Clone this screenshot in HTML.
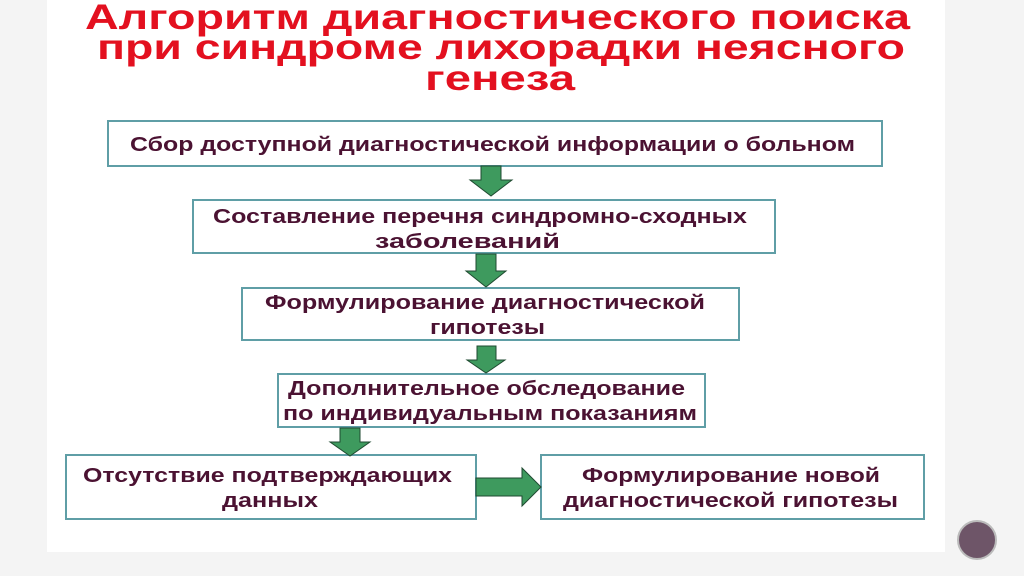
<!DOCTYPE html><html><head><meta charset="utf-8"><style>body{margin:0;background:#f4f4f4}svg{display:block}</style></head><body>
<svg width="1024" height="576" viewBox="0 0 1024 576" xmlns="http://www.w3.org/2000/svg" font-family="Liberation Sans, sans-serif">
<rect width="1024" height="576" fill="#f4f4f4"/>
<rect x="47" y="0" width="898" height="552" fill="#fff"/>
<g fill="#e3101f" font-weight="bold" font-size="35">
<text x="85" y="29" textLength="825" lengthAdjust="spacingAndGlyphs">Алгоритм диагностического поиска</text>
<text x="97" y="59" textLength="808" lengthAdjust="spacingAndGlyphs">при синдроме лихорадки неясного</text>
<text x="425" y="90" textLength="150" lengthAdjust="spacingAndGlyphs">генеза</text>
</g>
<g fill="#fff" stroke="#5f9ea6" stroke-width="2">
<rect x="108" y="121" width="774" height="45"/>
<rect x="193" y="200" width="582" height="53"/>
<rect x="242" y="288" width="497" height="52"/>
<rect x="278" y="374" width="427" height="53"/>
<rect x="66" y="455" width="410" height="64"/>
<rect x="541" y="455" width="383" height="64"/>
</g>
<g fill="#3e9a5e" stroke="#1f4a30" stroke-width="1">
<polygon points="481,166 501,166 501,180 512,180 491,196 470,180 481,180"/>
<polygon points="476,254 496,254 496,271 506,271 486,287 466,271 476,271"/>
<polygon points="477,346 496,346 496,360 505,360 486,373 467,360 477,360"/>
<polygon points="340,428 360,428 360,442 370,442 350,456 330,442 340,442"/>
<polygon points="476,478 522,478 522,468 541,487 522,506 522,496 476,496"/>
</g>
<g fill="#4b1232" font-weight="bold" font-size="20">
<text x="130" y="151" textLength="725" lengthAdjust="spacingAndGlyphs">Сбор доступной диагностической информации о больном</text>
<text x="213" y="223" textLength="534" lengthAdjust="spacingAndGlyphs">Составление перечня синдромно-сходных</text>
<text x="375" y="248" textLength="185" lengthAdjust="spacingAndGlyphs">заболеваний</text>
<text x="265" y="309" textLength="440" lengthAdjust="spacingAndGlyphs">Формулирование диагностической</text>
<text x="430" y="334" textLength="115" lengthAdjust="spacingAndGlyphs">гипотезы</text>
<text x="288" y="395" textLength="397" lengthAdjust="spacingAndGlyphs">Дополнительное обследование</text>
<text x="283" y="420" textLength="414" lengthAdjust="spacingAndGlyphs">по индивидуальным показаниям</text>
<text x="83" y="482" textLength="369" lengthAdjust="spacingAndGlyphs">Отсутствие подтверждающих</text>
<text x="222" y="507" textLength="96" lengthAdjust="spacingAndGlyphs">данных</text>
<text x="582" y="482" textLength="298" lengthAdjust="spacingAndGlyphs">Формулирование новой</text>
<text x="563" y="507" textLength="335" lengthAdjust="spacingAndGlyphs">диагностической гипотезы</text>
</g>
<circle cx="977" cy="540" r="19" fill="#6e5568" stroke="#bbb" stroke-width="2"/>
</svg></body></html>
